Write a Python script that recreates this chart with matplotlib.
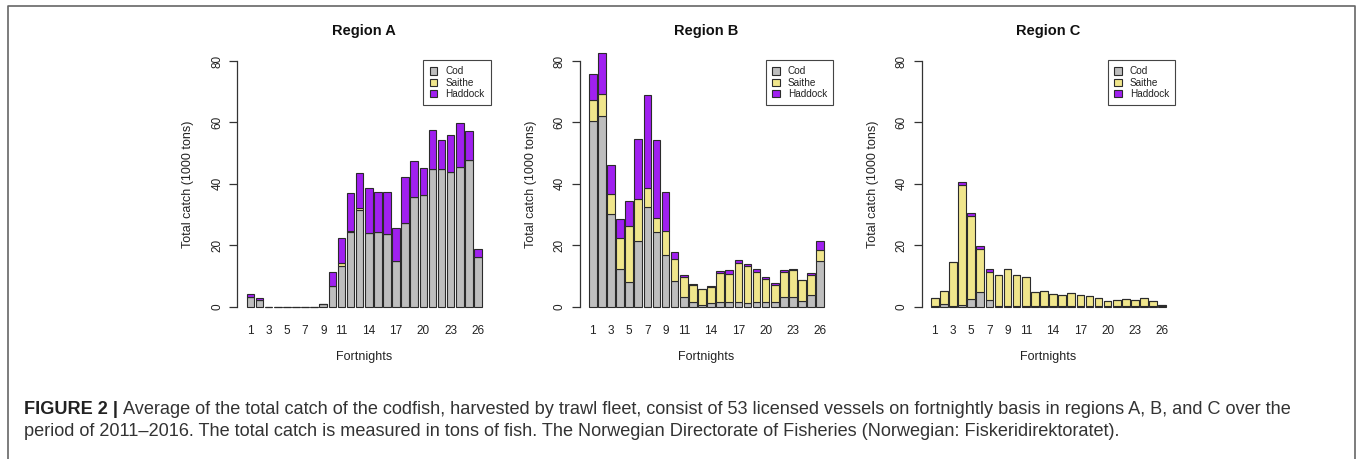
import matplotlib
matplotlib.use("Agg")
import matplotlib.pyplot as plt
from matplotlib.lines import Line2D
from matplotlib.patches import Patch
import numpy as np

plt.rcParams['font.family'] = ['Liberation Sans', 'DejaVu Sans']

fortnights = list(range(1, 27))
species = ["Cod", "Saithe", "Haddock"]
colors = {"Cod": "#BEBEBE", "Saithe": "#F0E68C", "Haddock": "#A020F0"}

# Region A (1000 tons)
a_cod = [3.0, 2.2, 0, 0, 0, 0, 0, 0, 0.8, 6.7, 13.4, 24.4, 31.5, 24.0, 24.2, 23.7,
         15.0, 27.4, 35.8, 36.4, 44.7, 44.7, 43.8, 45.5, 47.9, 16.1]
a_saithe = [0.2, 0, 0, 0, 0, 0, 0, 0, 0, 0, 0.7, 0.3, 0.7, 0, 0, 0,
            0, 0, 0, 0, 0, 0, 0, 0, 0, 0]
a_haddock = [1.0, 0.5, 0, 0, 0, 0, 0, 0, 0.2, 4.6, 8.3, 12.3, 11.2, 14.8, 13.2, 13.7,
             10.5, 14.8, 11.7, 8.8, 12.8, 9.7, 12.1, 14.4, 9.2, 2.7]

# Region B
b_cod = [60.6, 62.2, 30.3, 12.4, 8.0, 21.5, 32.4, 24.3, 16.9, 8.4, 3.3, 1.6, 0.5, 1.3,
         1.5, 1.5, 1.5, 1.3, 1.6, 1.5, 1.5, 3.0, 3.0, 2.0, 3.8, 14.8]
b_saithe = [6.8, 7.2, 6.4, 9.9, 18.2, 13.6, 6.4, 4.7, 7.9, 7.0, 6.4, 5.6, 5.1, 5.2,
            9.6, 9.3, 12.7, 11.9, 9.8, 7.6, 5.7, 8.3, 8.9, 6.6, 6.6, 3.8]
b_haddock = [8.5, 13.2, 9.3, 6.3, 8.1, 19.6, 30.0, 25.3, 12.5, 2.3, 0.7, 0.2, 0.1, 0.1,
             0.6, 1.0, 1.1, 0.8, 0.9, 0.5, 0.6, 0.6, 0.4, 0.2, 0.6, 2.7]

# Region C
c_cod = [0.1, 0.8, 0.3, 0.5, 2.4, 4.7, 2.2, 0.2, 0.2, 0.2, 0.1, 0.1, 0.1, 0.1,
         0.1, 0.1, 0.1, 0.1, 0.1, 0.1, 0.1, 0.1, 0.1, 0.1, 0.1, 0.3]
c_saithe = [2.6, 4.3, 14.1, 39.0, 27.2, 14.1, 9.2, 10.1, 12.0, 10.2, 9.5, 4.7, 5.1, 3.9,
            3.7, 4.5, 3.8, 3.4, 2.7, 1.6, 2.2, 2.5, 2.1, 2.7, 1.7, 0.3]
c_haddock = [0, 0, 0.3, 1.0, 1.0, 1.0, 0.9, 0, 0, 0, 0, 0, 0, 0,
             0, 0, 0, 0, 0, 0, 0, 0, 0, 0, 0, 0]

regions = [
    ("Region A", a_cod, a_saithe, a_haddock),
    ("Region B", b_cod, b_saithe, b_haddock),
    ("Region C", c_cod, c_saithe, c_haddock),
]

tick_fortnights = [1, 3, 5, 7, 9, 11, 14, 17, 20, 23, 26]
yticks = [0, 20, 40, 60, 80]
xlabel = "Fortnights"
ylabel = "Total catch (1000 tons)"

W, H = 1357, 459
fig = plt.figure(figsize=(W / 100, H / 100), dpi=100)

lefts = [237.3, 579.6, 921.6]
ax_w = 253.8
ax_top, ax_bot = 51.2, 316.5
ax_h = ax_bot - ax_top
edge = "#2b2b2b"
txt = "#222222"

pos = lambda f: 0.7 + 1.2 * (np.asarray(f) - 1)

for (title, cod, saithe, had), lpx in zip(regions, lefts):
    ax = fig.add_axes([lpx / W, 1 - ax_bot / H, ax_w / W, ax_h / H])
    x = pos(fortnights)
    cod = np.array(cod); saithe = np.array(saithe); had = np.array(had)
    ax.bar(x, cod, width=1.0, color=colors["Cod"], edgecolor=edge, linewidth=0.8, clip_on=False)
    ax.bar(x, saithe, bottom=cod, width=1.0, color=colors["Saithe"], edgecolor=edge, linewidth=0.8, clip_on=False)
    ax.bar(x, had, bottom=cod + saithe, width=1.0, color=colors["Haddock"], edgecolor=edge, linewidth=0.8, clip_on=False)
    ax.set_xlim(-1.04, 32.44)
    ax.set_ylim(-3.2, 83.2)
    for s in ["top", "right", "bottom"]:
        ax.spines[s].set_visible(False)
    ax.spines["left"].set_bounds(0, 80)
    ax.spines["left"].set_color("#333333")
    ax.spines["left"].set_linewidth(0.9)
    ax.set_yticks(yticks)
    ax.set_yticklabels([str(v) for v in yticks], rotation=90, va="center", fontsize=8.5, color=txt)
    ax.tick_params(axis="y", length=5.5, width=0.9, color="#333333", pad=4.5)
    ax.set_xticks(pos(tick_fortnights))
    ax.set_xticklabels([str(v) for v in tick_fortnights], fontsize=8.5, color=txt)
    ax.tick_params(axis="x", length=0, pad=6)
    ax.set_xlabel(xlabel, fontsize=9, color=txt)
    ax.xaxis.set_label_coords(0.5, 1 - (357 - ax_top) / ax_h)
    ax.xaxis.label.set_va("center")
    ax.set_ylabel(ylabel, fontsize=9, color=txt)
    ax.yaxis.set_label_coords(-48.8 / ax_w, 1 - (184 - ax_top) / ax_h)
    ax.yaxis.label.set_va("center")
    ax.set_facecolor("none")
    fig.text((lpx + ax_w / 2) / W, 1 - 31 / H, title, ha="center", va="center",
             fontsize=10.5, fontweight="bold", color="#111111")
    handles = [Patch(facecolor=colors[s], edgecolor=edge, linewidth=0.8, label=s) for s in species]
    leg = ax.legend(handles=handles, loc="upper right",
                    bbox_to_anchor=(1.0, 1 - (60 - ax_top) / ax_h),
                    fontsize=7.2, frameon=True, fancybox=False, framealpha=1,
                    handlelength=0.75, handleheight=0.75, handletextpad=0.8,
                    borderpad=0.65, labelspacing=0.12, borderaxespad=0)
    leg.get_frame().set_edgecolor("#444444")
    leg.get_frame().set_linewidth(0.8)
    for t in leg.get_texts():
        t.set_color(txt)

# figure frame (top, left, right)
fx = lambda px: px / W
fy = lambda py: 1 - py / H
fig.add_artist(Line2D([fx(8), fx(8), fx(1355), fx(1355)], [fy(459), fy(6), fy(6), fy(459)],
                      color="#666666", linewidth=1.2))

# caption
bold = "FIGURE 2 | "
line1 = "Average of the total catch of the codfish, harvested by trawl fleet, consist of 53 licensed vessels on fortnightly basis in regions A, B, and C over the"
line2 = "period of 2011\u20132016. The total catch is measured in tons of fish. The Norwegian Directorate of Fisheries (Norwegian: Fiskeridirektoratet)."
cap_col = "#333333"
base = 10.0
r = fig.canvas.get_renderer()
tb = fig.text(fx(24), fy(409), bold, fontsize=base, fontweight="bold", va="center", color="#222222")
t1 = fig.text(fx(24), fy(409), line1, fontsize=base, va="center", color=cap_col)
wb = tb.get_window_extent(r).width
w1 = t1.get_window_extent(r).width
size = base * (1295 - 24) / (wb + w1)
tb.set_fontsize(size); t1.set_fontsize(size)
wb = tb.get_window_extent(r).width
t1.set_x(fx(24 + wb))
fig.text(fx(24), fy(432), line2, fontsize=size, va="center", color=cap_col)

fig.savefig("out.png", dpi=100, facecolor="white")
